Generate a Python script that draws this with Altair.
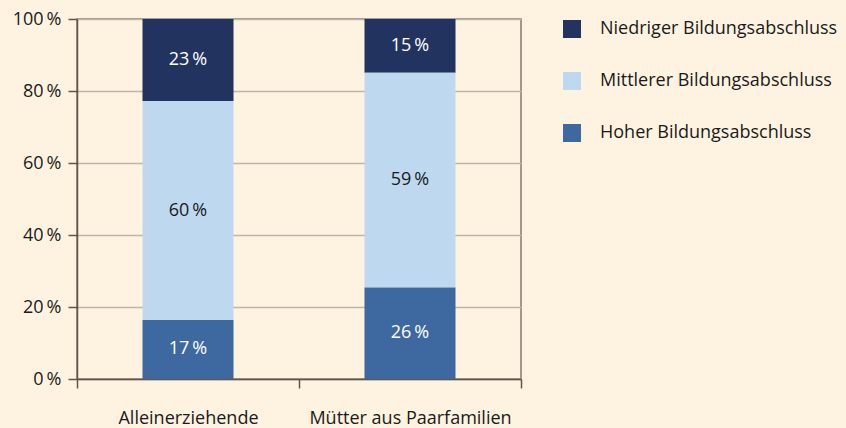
import altair as alt
import pandas as pd
import jinja2

groups = ["Alleinerziehende", "Mütter aus Paarfamilien"]
levels = ["Niedriger Bildungsabschluss", "Mittlerer Bildungsabschluss", "Hoher Bildungsabschluss"]
stack_rank = [3, 2, 1]  # Hoher at bottom
values_allein = [22.8, 60.8, 16.4]
values_muetter = [14.9, 59.7, 25.4]
labels_allein = ["23\u2009%", "60\u2009%", "17\u2009%"]
labels_muetter = ["15\u2009%", "59\u2009%", "26\u2009%"]
colors = ["#22335f", "#bed9ef", "#3d69a0"]

rows = []
for g, vals, labs in [(groups[0], values_allein, labels_allein), (groups[1], values_muetter, labels_muetter)]:
    for lev, r, v, lab in zip(levels, stack_rank, vals, labs):
        rows.append({"group": g, "level": lev, "rank": r, "value": v, "label": lab})
df = pd.DataFrame(rows)

FONT = "Open Sans"
FS = 18
BG = "#fef3e0"

base = alt.Chart(df).transform_stack(
    stack="value", as_=["y0", "y1"], groupby=["group"], sort=[alt.SortField("rank", order="ascending")]
).transform_calculate(mid="(datum.y0 + datum.y1) / 2")

x_enc = alt.X(
    "group:N",
    sort=groups,
    scale=alt.Scale(paddingInner=0, paddingOuter=0),
    axis=alt.Axis(
        title=None, labelAngle=0, tickBand="extent", tickSize=9, labelPadding=21,
        labelFontSize=FS, labelColor="#1a1a1a", labelFont=FONT, labelLimit=400,
        domainColor="#5e554b", domainWidth=1.5, tickColor="#5e554b", tickWidth=1.5, grid=False,
    ),
)

bars = base.mark_bar(width=alt.RelativeBandSize(0.41)).encode(
    x=x_enc,
    y=alt.Y(
        "y0:Q",
        scale=alt.Scale(domain=[0, 100], nice=False),
        axis=alt.Axis(
            title=None, values=[0, 20, 40, 60, 80, 100], labelExpr="datum.value + '\u2009%'",
            tickSize=9, labelPadding=7, labelFontSize=FS, labelColor="#1a1a1a", labelFont=FONT,
            domainColor="#5e554b", domainWidth=1.5, tickColor="#5e554b", tickWidth=1.5,
            grid=True, gridColor="#bdb5a6", gridWidth=1.5,
        ),
    ),
    y2="y1:Q",
    color=alt.Color(
        "level:N",
        scale=alt.Scale(domain=levels, range=colors),
        legend=alt.Legend(
            title=None, orient="none", legendX=486, legendY=1, symbolType="square",
            symbolSize=324, symbolStrokeWidth=0, symbolOpacity=1, labelFontSize=FS,
            labelFont=FONT, labelColor="#1a1a1a", labelOffset=19, rowPadding=34,
            labelLimit=400,
        ),
    ),
)

texts = base.mark_text(fontSize=FS, font=FONT, baseline="middle", align="center").encode(
    x=alt.X("group:N", sort=groups),
    y=alt.Y("mid:Q"),
    text="label:N",
    color=alt.condition(
        alt.datum.level == "Mittlerer Bildungsabschluss", alt.value("#1a1a1a"), alt.value("#ffffff")
    ),
)

chart = alt.layer(bars, texts).properties(
    width=444, height=360, background=BG,
    autosize=alt.AutoSizeParams(type="none"),
    padding={"left": 77, "top": 19, "right": 325, "bottom": 49},
).configure_view(stroke="#857b6f", strokeWidth=1.5)

TEMPLATE = jinja2.Template("""<!DOCTYPE html>
<html>
<head>
<meta charset="utf-8">
<style>
html, body { margin: 0; padding: 0; background: """ + BG + """; overflow: hidden; }
#{{ output_div }} { line-height: 0; }
</style>
<script type="text/javascript" src="{{ base_url }}/vega@{{ vega_version }}"></script>
<script type="text/javascript" src="{{ base_url }}/vega-lite@{{ vegalite_version }}"></script>
<script type="text/javascript" src="{{ base_url }}/vega-embed@{{ vegaembed_version }}"></script>
</head>
<body>
<div id="{{ output_div }}"></div>
<script type="text/javascript">
vegaEmbed("#{{ output_div }}", {{ spec }}, {{ embed_options }}).catch(console.error);
</script>
</body>
</html>
""")

chart.save("out.html", embed_options={"renderer": "svg", "actions": False}, template=TEMPLATE)
